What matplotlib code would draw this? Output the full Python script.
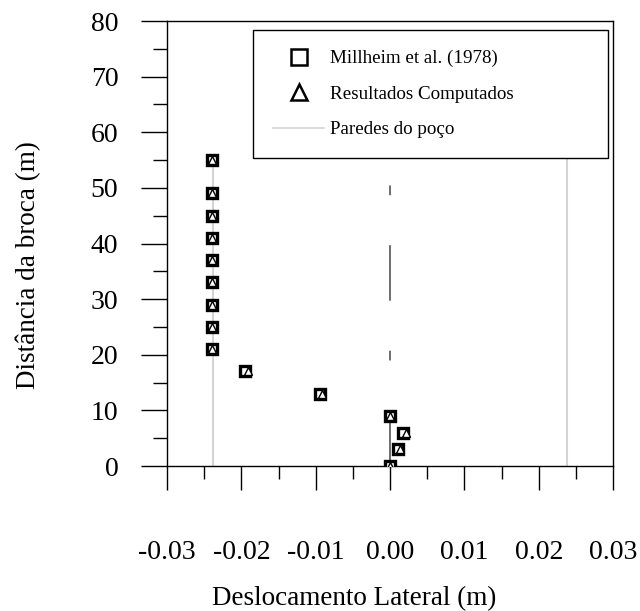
import matplotlib
matplotlib.use("Agg")
import matplotlib.pyplot as plt
from matplotlib.lines import Line2D

# dados
dist_mill = [55, 49, 45, 41, 37, 33, 29, 25, 21, 17, 13, 9, 6, 3, 0]
desl_mill = [-0.0239] * 9 + [-0.0195, -0.0094, 0.0, 0.0018, 0.0011, 0.0]

dist_comp = [55, 49, 45, 41, 37, 33, 29, 25, 21, 17, 13, 9, 6, 3, 0]
desl_comp = [-0.0239] * 9 + [-0.0191, -0.0091, 0.0, 0.0021, 0.0013, 0.0]

parede_x = [-0.0238, 0.0238]
parede_y = [0, 55]
eixo_y = [0, 55]

plt.rcParams['font.family'] = ['Liberation Serif', 'DejaVu Serif']
plt.rcParams['lines.scale_dashes'] = False

fig = plt.figure(figsize=(6.4, 6.11), dpi=100)
ax = fig.add_axes([0.261, 0.2373, 0.697, 0.7283])

# paredes do poco
for px in parede_x:
    ax.plot([px, px], parede_y, color="#d4d4d4", lw=1.5, zorder=1)

# eixo do poco (tracejado)
ax.plot([0, 0], eixo_y, color="#555555", lw=1.2, dashes=(40, 36, 7, 36), zorder=1)

ax.plot(desl_mill, dist_mill, "s", ms=7.5, mfc="white", mec="black", mew=2.4, zorder=3)
ax.plot(desl_comp, dist_comp, "^", ms=5.5, mfc="white", mec="black", mew=1.0, zorder=4)

ax.set_xlim(-0.03, 0.03)
ax.set_ylim(0, 80)
ax.set_xticks([-0.03, -0.02, -0.01, 0.0, 0.01, 0.02, 0.03])
ax.set_xticklabels(["-0.03", "-0.02", "-0.01", "0.00", "0.01", "0.02", "0.03"])
ax.set_xticks([-0.025, -0.015, -0.005, 0.005, 0.015, 0.025], minor=True)
ax.set_yticks(range(0, 81, 10))
ax.set_yticks(range(5, 80, 10), minor=True)

ax.tick_params(axis="x", which="major", direction="out", length=17, width=1, pad=36, labelsize=20)
ax.tick_params(axis="x", which="minor", direction="out", length=9, width=1)
ax.tick_params(axis="y", which="major", direction="out", length=19, width=1, pad=16, labelsize=20)
ax.tick_params(axis="y", which="minor", direction="out", length=10, width=1)

for s in ax.spines.values():
    s.set_linewidth(1)

ax.set_xlabel("Deslocamento Lateral (m)", fontsize=19.5, va="center", ha="center")
ax.xaxis.set_label_coords(0.42, -0.297)
ax.set_ylabel("Distância da broca (m)", fontsize=19.5, va="center", ha="center")
ax.yaxis.set_label_coords(-0.31, 0.452)

handles = [
    Line2D([], [], marker="s", ls="none", ms=12, mfc="white", mec="black", mew=1.8),
    Line2D([], [], marker="^", ls="none", ms=12, mfc="white", mec="black", mew=1.8),
    Line2D([], [], color="#d4d4d4", lw=1.2),
]
labels = ["Millheim et al. (1978)", "Resultados Computados", "Paredes do poço"]
leg = ax.legend(handles, labels, loc="upper left", bbox_to_anchor=(0.193, 0.98, 0.796, 0.0),
                mode="expand", fontsize=13.7, frameon=True, fancybox=False, framealpha=1,
                edgecolor="black", borderpad=1.05, labelspacing=0.96, handlelength=2.7,
                handletextpad=0.3, borderaxespad=0)
leg.get_frame().set_linewidth(1)

fig.savefig("out.png", dpi=100)
